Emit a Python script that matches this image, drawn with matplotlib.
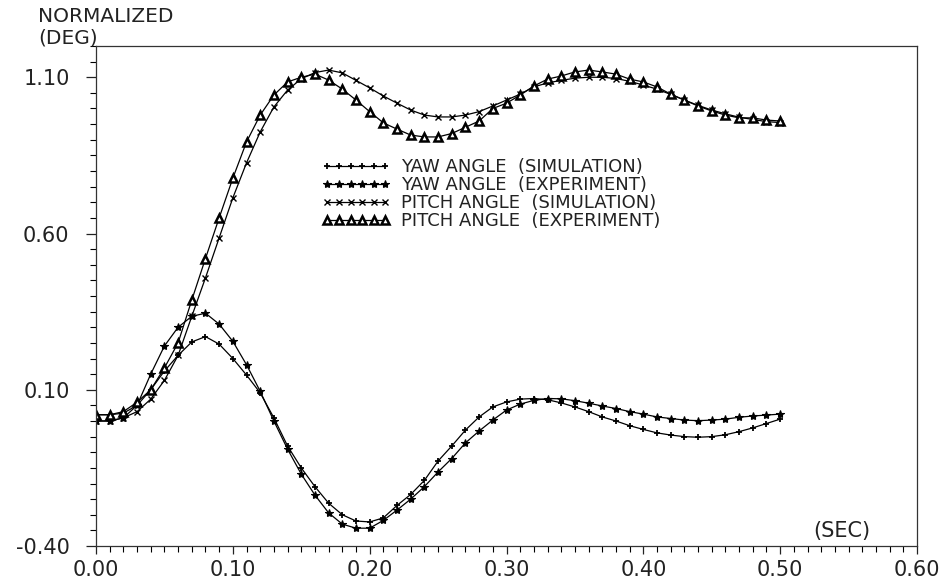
import matplotlib
matplotlib.use("Agg")
import matplotlib.pyplot as plt
from matplotlib.ticker import MultipleLocator, FormatStrFormatter

plt.rcParams['font.family'] = "DejaVu Sans"
plt.rcParams['font.size'] = 14

# time axis, one sample every 0.01 s
t = [i / 100 for i in range(51)]

yaw_sim = [0.02, 0.02, 0.025, 0.05, 0.10, 0.16, 0.21, 0.253, 0.27, 0.246,
           0.20, 0.147, 0.09, 0.01, -0.08, -0.15, -0.21, -0.263, -0.30, -0.32,
           -0.323, -0.31, -0.27, -0.235, -0.19, -0.128, -0.08, -0.029, 0.013, 0.045,
           0.061, 0.07, 0.072, 0.068, 0.058, 0.045, 0.03, 0.013, 0.0, -0.015,
           -0.027, -0.038, -0.045, -0.05, -0.052, -0.05, -0.044, -0.034, -0.022, -0.008,
           0.006]
yaw_exp = [0.0, 0.0, 0.01, 0.05, 0.15, 0.24, 0.30, 0.335, 0.345, 0.31,
           0.255, 0.18, 0.095, 0.0, -0.09, -0.17, -0.237, -0.294, -0.33, -0.343,
           -0.343, -0.318, -0.285, -0.25, -0.21, -0.163, -0.12, -0.07, -0.032, 0.003,
           0.035, 0.054, 0.066, 0.072, 0.071, 0.065, 0.057, 0.048, 0.04, 0.03,
           0.022, 0.013, 0.008, 0.003, 0.001, 0.003, 0.006, 0.012, 0.016, 0.019,
           0.022]
pitch_sim = [0.0, 0.0, 0.01, 0.03, 0.07, 0.13, 0.21, 0.335, 0.458, 0.586,
             0.714, 0.826, 0.925, 1.005, 1.059, 1.095, 1.115, 1.123, 1.114, 1.09,
             1.066, 1.04, 1.017, 0.995, 0.979, 0.973, 0.973, 0.979, 0.99, 1.008,
             1.027, 1.046, 1.069, 1.082, 1.09, 1.097, 1.10, 1.10, 1.096, 1.087,
             1.075, 1.062, 1.045, 1.027, 1.01, 0.995, 0.983, 0.972, 0.965, 0.958,
             0.955]
pitch_exp = [0.02, 0.02, 0.03, 0.06, 0.10, 0.17, 0.25, 0.387, 0.52, 0.65,
             0.777, 0.893, 0.979, 1.043, 1.085, 1.10, 1.11, 1.091, 1.062, 1.027,
             0.99, 0.954, 0.934, 0.915, 0.909, 0.909, 0.92, 0.94, 0.96, 1.0,
             1.017, 1.043, 1.072, 1.094, 1.104, 1.117, 1.123, 1.117, 1.11, 1.094,
             1.085, 1.069, 1.046, 1.027, 1.008, 0.992, 0.979, 0.97, 0.97, 0.963,
             0.96]

labels = ["YAW ANGLE  (SIMULATION)", "YAW ANGLE  (EXPERIMENT)",
          "PITCH ANGLE  (SIMULATION)", "PITCH ANGLE  (EXPERIMENT)"]

fig = plt.figure(figsize=(9.46, 5.84), dpi=100)
ax = fig.add_axes([96 / 946, 38 / 584, 821 / 946, 500 / 584])

ax.plot(t, yaw_sim, color="k", lw=0.9, marker="+", ms=5, mew=1.3, label=labels[0])
ax.plot(t, yaw_exp, color="k", lw=0.9, marker="*", ms=6, mew=0.8, label=labels[1])
ax.plot(t, pitch_sim, color="k", lw=0.9, marker="x", ms=4, mew=1.0, label=labels[2])
ax.plot(t, pitch_exp, color="k", lw=0.9, marker="^", ms=5.5, mew=1.8,
        mfc="white", mec="k", label=labels[3])

ax.set_xlim(0, 0.6)
ax.set_ylim(-0.4, 1.2)
ax.xaxis.set_major_locator(MultipleLocator(0.1))
ax.xaxis.set_minor_locator(MultipleLocator(0.01))
ax.yaxis.set_minor_locator(MultipleLocator(0.05))
ax.set_yticks([-0.4, 0.1, 0.6, 1.1])
ax.xaxis.set_major_formatter(FormatStrFormatter("%.2f"))
ax.yaxis.set_major_formatter(FormatStrFormatter("%.2f"))

ax.tick_params(axis="x", which="major", direction="out", length=6, width=0.9, pad=4,
               labelsize=15, colors="#222222")
ax.tick_params(axis="x", which="minor", direction="out", length=4.5, width=0.8)
ax.tick_params(axis="y", which="major", direction="out", length=7, width=0.9, pad=12,
               labelsize=15, colors="#222222")
ax.tick_params(axis="y", which="minor", direction="out", length=4, width=0.8)
for s in ax.spines.values():
    s.set_linewidth(0.9)
    s.set_color("#333333")

fig.text(38 / 946, 1 - 16 / 584, "NORMALIZED", ha="left", va="center",
         fontsize=14.5, color="#222222")
fig.text(38 / 946, 1 - 38 / 584, "(DEG)", ha="left", va="center",
         fontsize=14.5, color="#222222")
ax.text((813 - 96) / 821, 0.03, "(SEC)", transform=ax.transAxes,
        ha="left", va="center", fontsize=15, color="#222222")

ax.legend(loc="upper left", bbox_to_anchor=(322 / 946, 1 - 158 / 584),
          bbox_transform=fig.transFigure, frameon=False, numpoints=6,
          handlelength=3.8, handletextpad=0.6, labelspacing=0.0,
          borderpad=0, borderaxespad=0, fontsize=13, labelcolor="#222222")

fig.savefig("out.png", dpi=100)
